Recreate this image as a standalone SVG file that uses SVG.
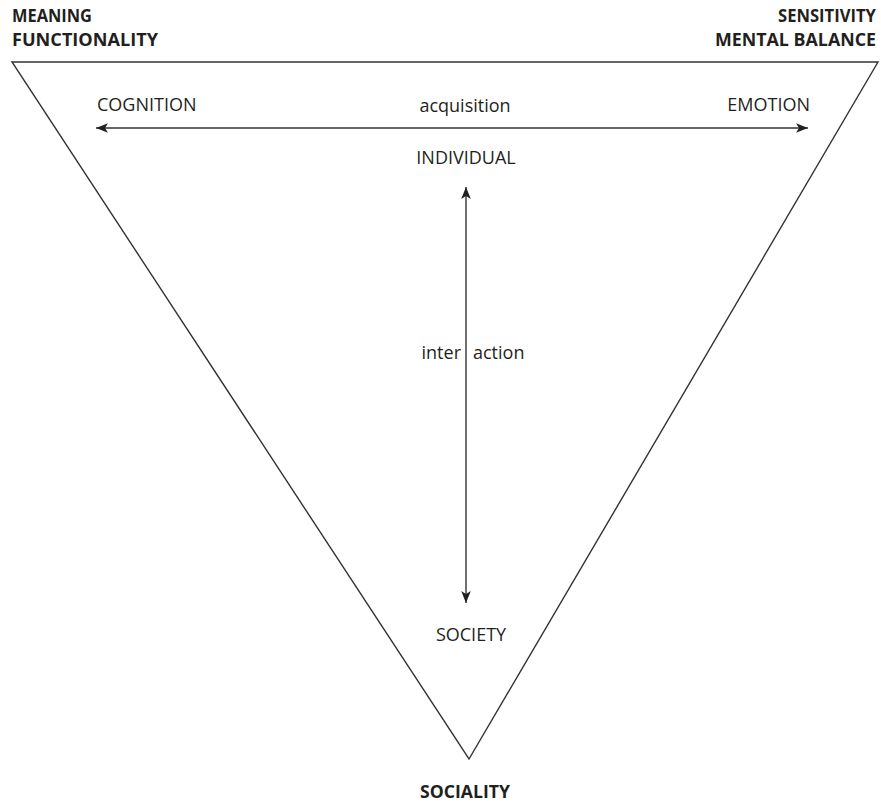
<svg xmlns="http://www.w3.org/2000/svg" width="881" height="802" viewBox="0 0 881 802">
<defs>
<style>
.t{font-family:"Open Sans","Liberation Sans",sans-serif;fill:#231f20;font-size:18px}
.b{font-weight:bold;font-size:17px}
.ln{stroke:#333;stroke-width:1.4;fill:none}
</style>
<marker id="ah" viewBox="0 0 10 10" refX="10" refY="5" markerWidth="12" markerHeight="12" markerUnits="userSpaceOnUse" orient="auto-start-reverse">
<path d="M0,1 L10,5 L0,9 L2.5,5 Z" fill="#231f20"/>
</marker>
</defs>
<rect width="881" height="802" fill="#fff"/>
<g id="triangle"><polygon class="ln" points="12,62 878,62 469,759"/></g>
<g id="connectors">
<line class="ln" x1="96" y1="128" x2="808" y2="128" marker-start="url(#ah)" marker-end="url(#ah)"/>
<line class="ln" x1="466" y1="187" x2="466" y2="603" marker-start="url(#ah)" marker-end="url(#ah)"/>
</g>
<g id="meaning"><text class="t b" x="12" y="22" textLength="80" lengthAdjust="spacingAndGlyphs">MEANING</text><text class="t b" x="12" y="46" textLength="146" lengthAdjust="spacingAndGlyphs">FUNCTIONALITY</text></g>
<g id="sensitivity"><text class="t b" x="876" y="22" text-anchor="end" textLength="98" lengthAdjust="spacingAndGlyphs">SENSITIVITY</text><text class="t b" x="876" y="46" text-anchor="end" textLength="161" lengthAdjust="spacingAndGlyphs">MENTAL BALANCE</text></g>
<g id="cognition"><text class="t" x="97" y="111">COGNITION</text></g>
<g id="acquisition"><text class="t" x="465" y="112" text-anchor="middle">acquisition</text></g>
<g id="emotion"><text class="t" x="810" y="111" text-anchor="end">EMOTION</text></g>
<g id="individual"><text class="t" x="466" y="164" text-anchor="middle">INDIVIDUAL</text></g>
<g id="interaction"><text class="t" x="461" y="359" text-anchor="end">inter</text><text class="t" x="473" y="359">action</text></g>
<g id="society"><text class="t" x="471" y="641" text-anchor="middle">SOCIETY</text></g>
<g id="sociality"><text class="t b" x="465" y="798" text-anchor="middle" textLength="90" lengthAdjust="spacingAndGlyphs">SOCIALITY</text></g>
</svg>
